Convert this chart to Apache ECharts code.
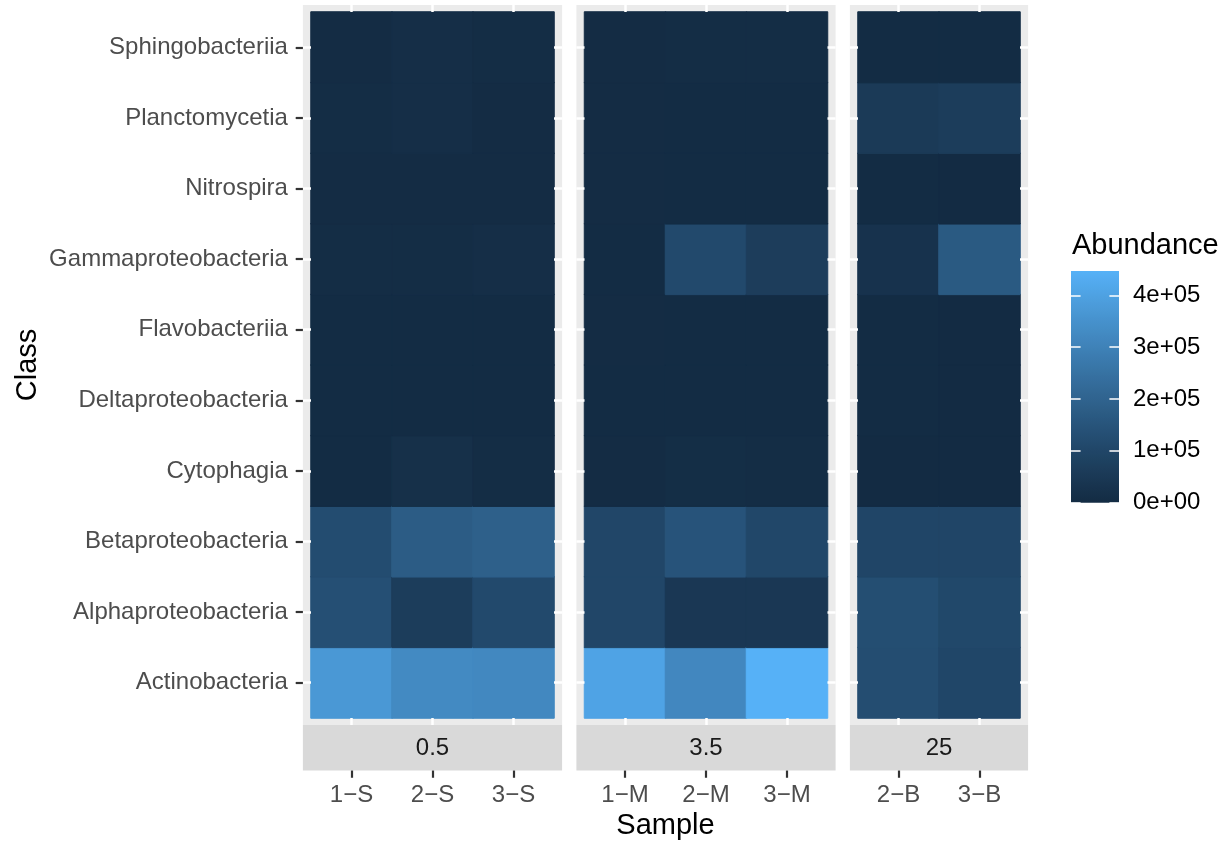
<!DOCTYPE html>
<html>
<head>
<meta charset="utf-8">
<title>Abundance by class and sample</title>
<script src="https://cdn.jsdelivr.net/npm/echarts@6/dist/echarts.min.js"></script>
<style>
  html, body { margin: 0; padding: 0; background: #ffffff; }
  #chart { width: 1227px; height: 841px; }
</style>
</head>
<body>
<div id="chart"></div>
<script>
// ---- data -------------------------------------------------------------
// classes listed bottom-to-top (category y axis starts at the bottom)
const classes = [
  'Actinobacteria', 'Alphaproteobacteria', 'Betaproteobacteria', 'Cytophagia',
  'Deltaproteobacteria', 'Flavobacteriia', 'Gammaproteobacteria', 'Nitrospira',
  'Planctomycetia', 'Sphingobacteriia'
];
// depth facets and the samples inside each facet
const depths = ['0.5', '3.5', '25'];
const facetSamples = [
  ['1−S', '2−S', '3−S'],
  ['1−M', '2−M', '3−M'],
  ['2−B', '3−B']
];
// abundance per sample, same order as `classes`
const ab1S = [370000, 133000, 121000,  3000, 3000, 3000,   7000, 4000,  6000,  4000];
const ab2S = [325000,  65000, 176000, 18000, 3000, 3000,   8000, 4000, 12000, 12000];
const ab3S = [322000, 112000, 189000,  8000, 3000, 3000,  11000, 4000,  5000,  7000];
const ab1M = [405000, 103000, 103000,  5000, 3000, 4000,   3000, 4000,  4000,  4000];
const ab2M = [318000,  47000, 148000,  9000, 3000, 2000, 112000, 3000,  3000,  8000];
const ab3M = [447000,  46000, 104000,  6000, 3000, 2000,  68000, 3000,  3000,  8000];
const ab2B = [126000, 128000,  97000,  1000, 2000, 2000,  27000, 3000, 57000,  2000];
const ab3B = [100000, 107000,  97000,  1000, 1000, 1000, 169000, 1000, 65000,  2000];
const facetValues = [[ab1S, ab2S, ab3S], [ab1M, ab2M, ab3M], [ab2B, ab3B]];
// colour bar breaks
const legendBreaks = [0, 100000, 200000, 300000, 400000];

// ---- colour ramp (interpolated in CIELAB, dark navy to light blue) -----
const LOW = '#132B43', HIGH = '#56B1F7';
function hexToLab(hex) {
  const c = [1, 3, 5].map(i => parseInt(hex.substr(i, 2), 16) / 255)
    .map(v => v <= 0.04045 ? v / 12.92 : Math.pow((v + 0.055) / 1.055, 2.4));
  const X = (0.4124 * c[0] + 0.3576 * c[1] + 0.1805 * c[2]) / 0.95047;
  const Y = (0.2126 * c[0] + 0.7152 * c[1] + 0.0722 * c[2]);
  const Z = (0.0193 * c[0] + 0.1192 * c[1] + 0.9505 * c[2]) / 1.08883;
  const f = t => t > 0.008856 ? Math.cbrt(t) : 7.787 * t + 16 / 116;
  return [116 * f(Y) - 16, 500 * (f(X) - f(Y)), 200 * (f(Y) - f(Z))];
}
function labToHex(lab) {
  const fy = (lab[0] + 16) / 116, fx = fy + lab[1] / 500, fz = fy - lab[2] / 200;
  const inv = t => t * t * t > 0.008856 ? t * t * t : (t - 16 / 116) / 7.787;
  const X = inv(fx) * 0.95047, Y = inv(fy), Z = inv(fz) * 1.08883;
  const lin = [
    3.2406 * X - 1.5372 * Y - 0.4986 * Z,
    -0.9689 * X + 1.8758 * Y + 0.0415 * Z,
    0.0557 * X - 0.2040 * Y + 1.0570 * Z
  ];
  return '#' + lin.map(v => {
    v = v <= 0.0031308 ? 12.92 * v : 1.055 * Math.pow(v, 1 / 2.4) - 0.055;
    const n = Math.round(Math.min(1, Math.max(0, v)) * 255);
    return (n < 16 ? '0' : '') + n.toString(16);
  }).join('');
}
const labLow = hexToLab(LOW), labHigh = hexToLab(HIGH);
const rampAt = t => labToHex(labLow.map((v, k) => v + (labHigh[k] - v) * t));
const ramp = [];
for (let i = 0; i <= 64; i++) ramp.push(rampAt(i / 64));

// ---- layout -----------------------------------------------------------
const FONT = '"Liberation Sans", Arial, Helvetica, sans-serif';
const AXIS_TEXT = 24, TITLE_TEXT = 29;
const tileTop = 12, rowH = 70.6, colW = 81;
const padX = 8.1, padY = 7.06;          // panel background beyond the tiles
const panelGap = 14.3;
const stripH = 45.5;
const tickLen = 7.2;
const tilesH = rowH * classes.length;

const tileLefts = [];
let xCursor = 311;
facetSamples.forEach(s => { tileLefts.push(xCursor); xCursor += s.length * colW + 2 * padX + panelGap; });

const allValues = [].concat(...facetValues.map(f => [].concat(...f)));
const vMax = Math.max(...allValues);

function sci(v) {
  if (v === 0) return '0e+00';
  const e = Math.floor(Math.log10(v));
  const m = Math.round(v / Math.pow(10, e));
  return m + 'e+' + (e < 10 ? '0' : '') + e;
}

const grid = [], xAxis = [], yAxis = [], series = [], graphic = [];
const whiteTick = { show: true, alignWithLabel: true, interval: 0, length: padX, lineStyle: { color: '#FFFFFF', width: 2.5 } };

facetSamples.forEach((samples, p) => {
  const w = samples.length * colW;
  grid.push({ left: tileLefts[p], top: tileTop, width: w, height: tilesH, containLabel: false });

  const xBase = { type: 'category', gridIndex: p, data: samples, z: 5,
    axisLine: { show: false }, splitLine: { show: false } };
  // white grid-line stubs below and above the tiles
  xAxis.push(Object.assign({}, xBase, { position: 'bottom',
    axisTick: Object.assign({}, whiteTick, { length: padY }), axisLabel: { show: false } }));
  xAxis.push(Object.assign({}, xBase, { position: 'top',
    axisTick: Object.assign({}, whiteTick, { length: padY }), axisLabel: { show: false } }));
  // labelled axis under the strip
  xAxis.push(Object.assign({}, xBase, { position: 'bottom', offset: padY + stripH,
    axisTick: { show: true, alignWithLabel: true, interval: 0, length: tickLen, lineStyle: { color: '#333333', width: 2.2 } },
    axisLabel: { show: true, interval: 0, color: '#4D4D4D', fontSize: AXIS_TEXT, fontFamily: FONT, margin: 13 } }));

  const yBase = { type: 'category', gridIndex: p, data: classes, z: 5,
    axisLine: { show: false }, splitLine: { show: false }, axisLabel: { show: false } };
  yAxis.push(Object.assign({}, yBase, { position: 'left', axisTick: whiteTick }));
  yAxis.push(Object.assign({}, yBase, { position: 'right', axisTick: whiteTick }));

  // each tile gets a hairline border in its own colour so neighbouring tiles meet without seams
  const data = [];
  facetValues[p].forEach((vals, j) => vals.forEach((v, i) => data.push({
    value: [j, i, v],
    itemStyle: { borderColor: rampAt(v / vMax), borderWidth: 1 }
  })));
  series.push({
    type: 'heatmap', xAxisIndex: 3 * p, yAxisIndex: 2 * p, data: data,
    emphasis: { disabled: true }, silent: true
  });

  // panel background and facet strip
  const bx = tileLefts[p] - padX, bw = w + 2 * padX;
  graphic.push({ type: 'rect', z: 0, silent: true,
    shape: { x: bx, y: tileTop - padY, width: bw, height: tilesH + 2 * padY }, style: { fill: '#EBEBEB' } });
  graphic.push({ type: 'rect', z: 0, silent: true,
    shape: { x: bx, y: tileTop + tilesH + padY, width: bw, height: stripH }, style: { fill: '#D9D9D9' } });
  graphic.push({ type: 'text', z: 5, silent: true, x: bx + bw / 2, y: tileTop + tilesH + padY + stripH / 2 + 1,
    style: { text: depths[p], fill: '#1A1A1A', font: AXIS_TEXT + 'px ' + FONT, align: 'center', verticalAlign: 'middle' } });
});

// class labels on the first panel
yAxis.push({ type: 'category', gridIndex: 0, data: classes, position: 'left', offset: padX, z: 5,
  axisLine: { show: false }, splitLine: { show: false },
  axisTick: { show: true, alignWithLabel: true, interval: 0, length: tickLen, lineStyle: { color: '#333333', width: 2.2 } },
  axisLabel: { show: true, interval: 0, color: '#4D4D4D', fontSize: AXIS_TEXT, fontFamily: FONT, margin: 15 } });

// axis titles, centred on the panel area
const panelsLeft = tileLefts[0] - padX;
const panelsRight = tileLefts[2] + facetSamples[2].length * colW + padX;
graphic.push({ type: 'text', z: 5, silent: true, x: (panelsLeft + panelsRight) / 2, y: 826,
  style: { text: 'Sample', fill: '#000000', font: TITLE_TEXT + 'px ' + FONT, align: 'center', verticalAlign: 'middle' } });
graphic.push({ type: 'text', z: 5, silent: true, x: 28, y: tileTop + tilesH / 2, rotation: Math.PI / 2,
  style: { text: 'Class', fill: '#000000', font: TITLE_TEXT + 'px ' + FONT, align: 'center', verticalAlign: 'middle' } });

// ---- colour bar legend -----------------------------------------------
const barLeft = 1071, barTop = 271, barW = 48, barH = 231.7;
graphic.push({ type: 'text', z: 5, silent: true, x: 1072, y: 246,
  style: { text: 'Abundance', fill: '#000000', font: TITLE_TEXT + 'px ' + FONT, align: 'left', verticalAlign: 'middle' } });
grid.push({ left: barLeft, top: barTop, width: barW, height: barH });
const legendGrid = grid.length - 1;
xAxis.push({ type: 'category', gridIndex: legendGrid, data: ['Abundance'], show: false });
const legendTick = { show: true, inside: true, length: barW / 5, customValues: legendBreaks,
  lineStyle: { color: '#FFFFFF', width: 1.5 } };
yAxis.push({ type: 'value', gridIndex: legendGrid, min: 0, max: vMax, position: 'left', z: 10,
  axisLine: { show: false }, splitLine: { show: false }, axisLabel: { show: false }, axisTick: legendTick });
yAxis.push({ type: 'value', gridIndex: legendGrid, min: 0, max: vMax, position: 'right', z: 10,
  axisLine: { show: false }, splitLine: { show: false }, axisTick: legendTick,
  axisLabel: { show: true, customValues: legendBreaks, formatter: sci, color: '#000000',
    fontSize: AXIS_TEXT, fontFamily: FONT, margin: 14 } });
series.push({
  type: 'bar', xAxisIndex: xAxis.length - 1, yAxisIndex: yAxis.length - 2,
  data: [vMax], barWidth: '100%', silent: true, emphasis: { disabled: true },
  itemStyle: { color: { type: 'linear', x: 0, y: 0, x2: 0, y2: 1,
    colorStops: ramp.slice().reverse().map((c, i, a) => ({ offset: i / (a.length - 1), color: c })) } }
});

const chart = echarts.init(document.getElementById('chart'), null, { renderer: 'canvas' });
chart.setOption({
  animation: false,
  backgroundColor: '#FFFFFF',
  grid: grid,
  xAxis: xAxis,
  yAxis: yAxis,
  visualMap: { type: 'continuous', show: false, min: 0, max: vMax, seriesIndex: [0, 1, 2],
    inRange: { color: ramp } },
  graphic: { elements: graphic },
  series: series
});
</script>
</body>
</html>
